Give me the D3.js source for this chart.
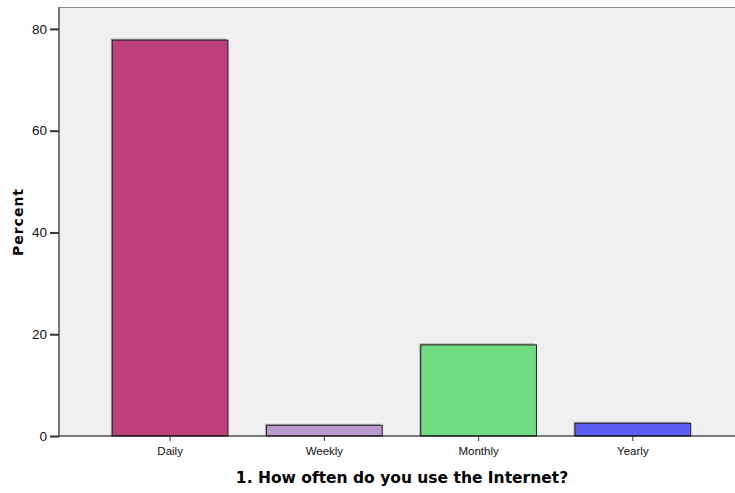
<!DOCTYPE html>
<html>
<head>
    <script src="https://d3js.org/d3.v7.min.js"></script>
    <style>
        body { margin: 0; background: white; }
        text { font-family: "DejaVu Sans", sans-serif; }
    </style>
</head>
<body>
    <svg id="chart" width="735" height="493"></svg>
    <script>
        // data
        var categories = ["Daily", "Weekly", "Monthly", "Yearly"];
        var percents = [77.8, 2.1, 17.9, 2.5];
        var barColors = ["#bb407c", "#b99ccb", "#6fdc82", "#5c5cf6"];
        var yTicks = [0, 20, 40, 60, 80];

        var svg = d3.select("#chart");
        var plotLeft = 59, plotTop = 7, plotRight = 735, plotBottom = 436;

        var y = d3.scaleLinear().domain([0, 84.3]).range([plotBottom, plotTop]);
        var x = d3.scaleBand().domain(categories).range([93, 710])
            .paddingInner(0.25).paddingOuter(0.125);

        // plot background
        svg.append("rect")
            .attr("x", plotLeft).attr("y", plotTop)
            .attr("width", plotRight - plotLeft).attr("height", plotBottom - plotTop)
            .attr("fill", "#f0f0f0");
        svg.append("line")
            .attr("x1", plotLeft).attr("x2", plotRight).attr("y1", plotTop + 0.5).attr("y2", plotTop + 0.5)
            .attr("stroke", "#888").attr("stroke-width", 1);

        var data = categories.map((c, i) => ({ cat: c, v: percents[i], color: barColors[i] }));

        // bar shadows
        svg.append("g").selectAll("rect")
            .data(data).enter().append("rect")
            .attr("x", d => x(d.cat) - 1.5)
            .attr("y", d => y(d.v) - 1.5)
            .attr("width", x.bandwidth())
            .attr("height", d => plotBottom - y(d.v) + 1.5)
            .attr("fill", "#aaa");

        // bars
        svg.append("g").selectAll("rect")
            .data(data).enter().append("rect")
            .attr("x", d => x(d.cat))
            .attr("y", d => y(d.v))
            .attr("width", x.bandwidth())
            .attr("height", d => plotBottom - y(d.v))
            .attr("fill", d => d.color)
            .attr("stroke", "#222")
            .attr("stroke-width", 1);

        // y axis
        var yAxis = svg.append("g")
            .attr("transform", "translate(" + plotLeft + ",0)")
            .call(d3.axisLeft(y).tickValues(yTicks).tickSize(9).tickPadding(3).tickFormat(d3.format("d")));
        yAxis.select(".domain").attr("stroke", "#777").attr("stroke-width", 2)
            .attr("d", "M0," + plotTop + "V" + plotBottom);
        yAxis.selectAll(".tick line").attr("stroke", "#333").attr("stroke-width", 2);
        yAxis.selectAll("text").attr("font-size", 13.5).attr("fill", "#111")
            .style("font-family", "'Liberation Sans', sans-serif");

        // x axis
        var xAxis = svg.append("g")
            .attr("transform", "translate(0," + plotBottom + ")")
            .call(d3.axisBottom(x).tickSize(5).tickPadding(6));
        xAxis.select(".domain").attr("stroke", "#000").attr("d", "M" + plotLeft + ",0H" + plotRight);
        xAxis.selectAll(".tick line").attr("stroke", "#333");
        xAxis.selectAll("text").attr("font-size", 11.5).attr("fill", "#111")
            .style("font-family", "'Liberation Sans', sans-serif");

        // axis titles
        svg.append("text")
            .attr("x", 402).attr("y", 483)
            .attr("text-anchor", "middle")
            .attr("font-size", 15.5).attr("font-weight", "bold")
            .text("1. How often do you use the Internet?");
        svg.append("text")
            .attr("transform", "translate(23,222) rotate(-90)")
            .attr("text-anchor", "middle")
            .attr("font-size", 14).attr("font-weight", "bold")
            .attr("letter-spacing", 1)
            .text("Percent");
    </script>
</body>
</html>
